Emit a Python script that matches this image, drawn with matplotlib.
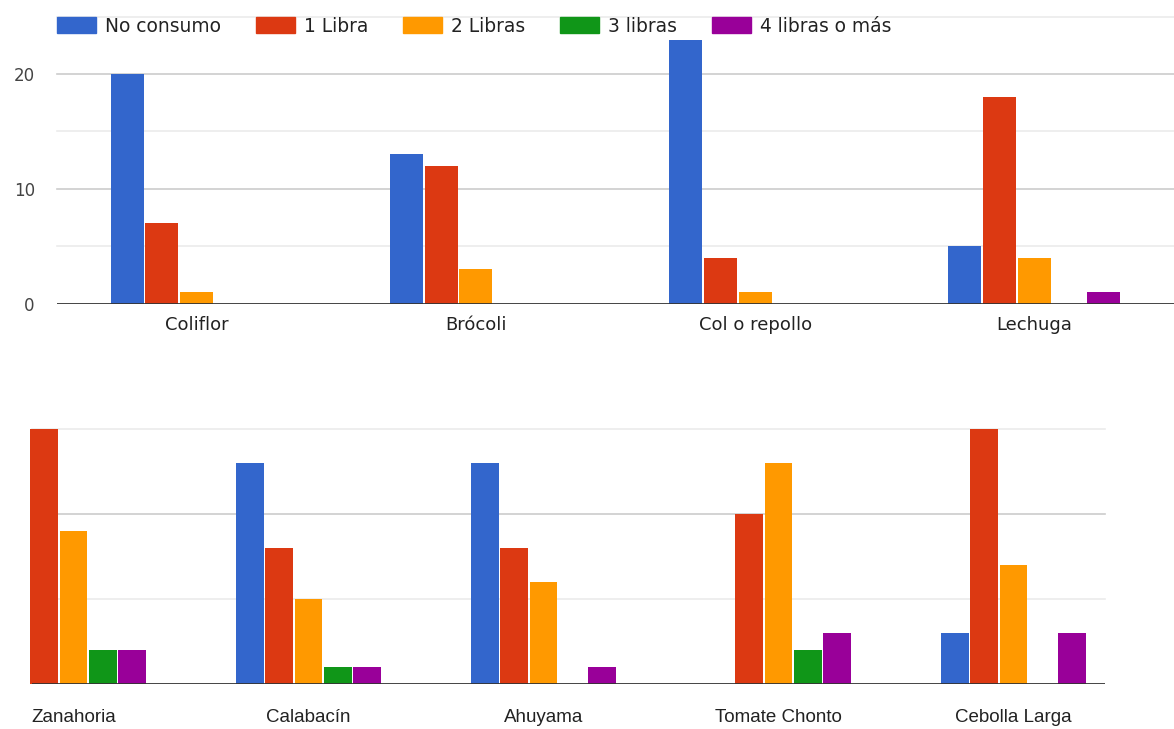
import numpy as np
import matplotlib
matplotlib.use("Agg")
import matplotlib.pyplot as plt
from matplotlib.patches import Patch

series = ['No consumo', '1 Libra', '2 Libras', '3 libras', '4 libras o más']
colores = ['#3366cc', '#dc3912', '#ff9900', '#109618', '#990099']

# panel superior
cat_sup = ['Coliflor', 'Brócoli', 'Col o repollo', 'Lechuga']
no_consumo_sup = [20, 13, 23, 5]
libra1_sup = [7, 12, 4, 18]
libra2_sup = [1, 3, 1, 4]
libra3_sup = [0, 0, 0, 0]
libra4_sup = [0, 0, 0, 1]

# panel inferior
cat_inf = ['Zanahoria', 'Calabacín', 'Ahuyama', 'Tomate Chonto', 'Cebolla Larga']
no_consumo_inf = [0, 13, 13, 0, 3]
libra1_inf = [15, 8, 8, 10, 15]
libra2_inf = [9, 5, 6, 13, 7]
libra3_inf = [2, 1, 0, 2, 0]
libra4_inf = [2, 1, 1, 3, 3]

W, H = 1174, 729
fig = plt.figure(figsize=(W / 100, H / 100), dpi=100)

ax1 = fig.add_axes([57 / W, 1 - 304 / H, (1174 - 57) / W, (304 - 16.5) / H])
ax2 = fig.add_axes([32 / W, 1 - 684 / H, (1105 - 32) / W, (684 - 429) / H])

paso = 0.1245
ancho = 0.118


def dibujar(ax, cats, datos, ymax, xlim, fuente, pad):
    x = np.arange(len(cats))
    for i, (vals, col) in enumerate(zip(datos, colores)):
        ax.bar(x + (i - 2) * paso, vals, width=ancho, color=col,
               zorder=3, clip_on=False)
    ax.set_xlim(*xlim)
    ax.set_ylim(0, ymax)
    for v in range(5, ymax + 1, 5):
        c = '#cccccc' if v % 10 == 0 else '#ebebeb'
        ax.axhline(v, color=c, lw=1.2, zorder=1, clip_on=False)
    ax.axhline(0, color='#333333', lw=2, zorder=4)
    for s in ax.spines.values():
        s.set_visible(False)
    ax.set_xticks(x)
    ax.set_xticklabels(cats, **fuente)
    ax.tick_params(axis='x', length=0, pad=pad, colors='#222222')


dibujar(ax1, cat_sup,
        [no_consumo_sup, libra1_sup, libra2_sup, libra3_sup, libra4_sup],
        25, (-0.5, 3.5), dict(fontsize=13, family='DejaVu Sans'), 9)
ax1.set_yticks([0, 10, 20])
ax1.tick_params(axis='y', length=0, pad=16, labelsize=12, colors='#444444')

dibujar(ax2, cat_inf,
        [no_consumo_inf, libra1_inf, libra2_inf, libra3_inf, libra4_inf],
        15, (-0.1766, 4.389),
        dict(fontsize=13.5, family='Liberation Sans'), 18)
ax2.set_yticks([])

handles = [Patch(color=c) for c in colores]
fig.legend(handles, series, loc='center left',
           bbox_to_anchor=(57 / W, 1 - 26 / H), ncol=5, frameon=False,
           fontsize=13.4, handlelength=2.1, handleheight=0.9,
           handletextpad=0.5, columnspacing=1.85, borderpad=0,
           borderaxespad=0, labelcolor='#222222')

fig.savefig('out.png', dpi=100)
